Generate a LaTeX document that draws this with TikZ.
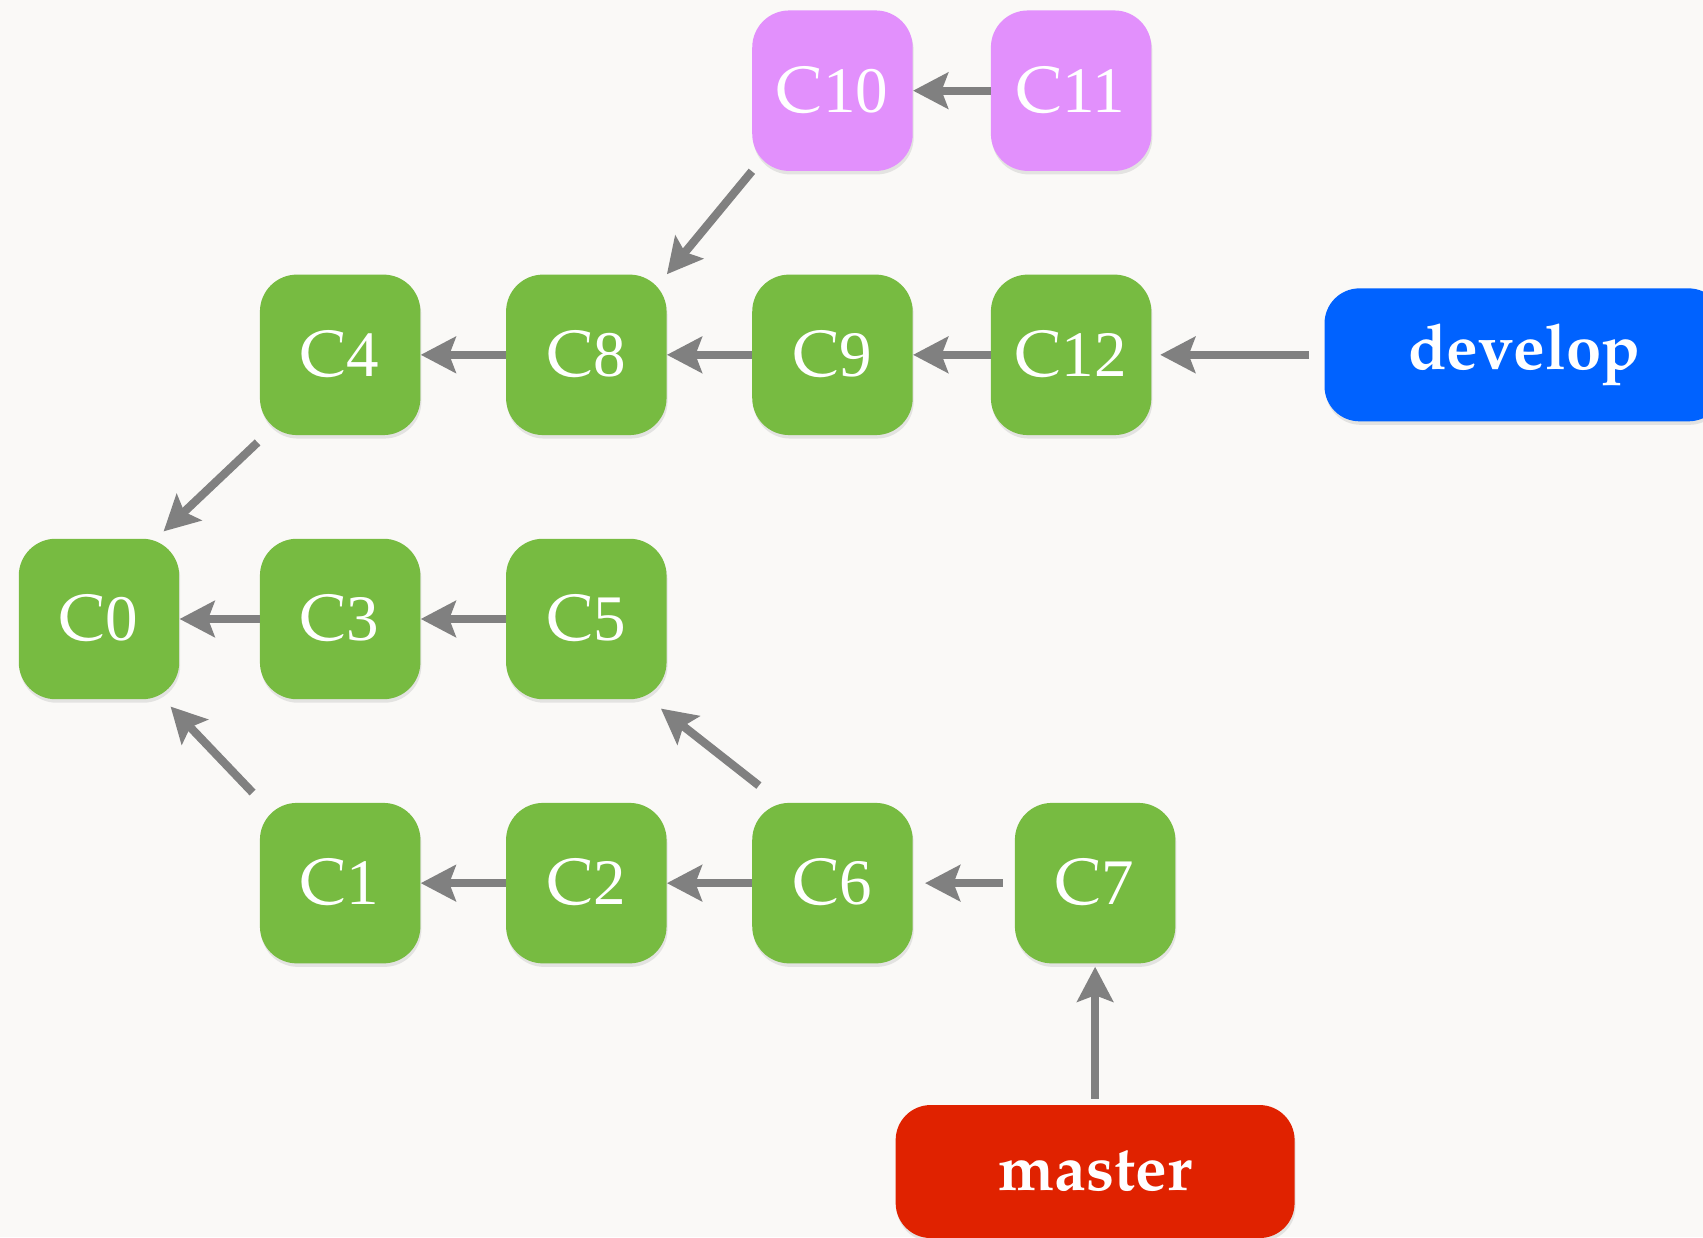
\documentclass[tikz,border=0pt]{standalone}
\usepackage{fontspec}
\newfontfamily\digitfont{Liberation Serif}
\usepackage[T1]{fontenc}
\usepackage{palatino}
\usetikzlibrary{positioning,shadows,arrows.meta}

\definecolor{commitgreen}{HTML}{77BB41}
\definecolor{commitpink}{HTML}{E290FC}
\definecolor{devblue}{HTML}{0062FF}
\definecolor{masterred}{HTML}{E02200}
\definecolor{linkgray}{HTML}{808080}
\definecolor{paper}{HTML}{FAF9F7}

% commit label: C plus lining digits
\newcommand\cid[1]{C{\digitfont #1}}

\tikzset{
  commit/.style={fill=commitgreen, text=white, rounded corners=0.74cm,
    minimum width=3.21cm, minimum height=3.21cm, inner sep=0pt,
    font=\fontsize{37}{40}\selectfont,
    drop shadow={opacity=0.18, shadow xshift=0.02cm, shadow yshift=-0.07cm}},
  topic/.style={commit, fill=commitpink},
  branch/.style={commit, minimum width=7.98cm, minimum height=2.66cm,
    rounded corners=0.7cm, font=\fontsize{36}{38}\selectfont\bfseries},
  parent/.style={draw=linkgray, line width=0.165cm,
    -{Stealth[length=0.7cm,width=0.72cm,inset=0.13cm]}},
}

\begin{document}
\begin{tikzpicture}[x=0.02cm, y=0.02cm]
\fill[paper] (0,0) rectangle (1703,1237);
\useasboundingbox (0,0) rectangle (1703,1237);
\clip (0,0) rectangle (1703,1237);
% middle row
\node[commit] (C0) at (99,618) {\cid{0}};
\node[commit, right=1.6cm of C0] (C3) {\cid{3}};
\node[commit, right=1.7cm of C3] (C5) {\cid{5}};
% develop row
\node[commit, above=2.06cm of C3] (C4) {\cid{4}};
\node[commit, right=1.7cm of C4] (C8) {\cid{8}};
\node[commit, right=1.7cm of C8] (C9) {\cid{9}};
\node[commit, right=1.55cm of C9] (C12) {\cid{12}};
\node[branch, fill=devblue, right=3.45cm of C12] (develop) {develop};
% topic row
\node[topic, above=2.06cm of C9] (C10) {\cid{10}};
\node[topic, right=1.55cm of C10] (C11) {\cid{11}};
% master row
\node[commit, below=2.06cm of C3] (C1) {\cid{1}};
\node[commit, right=1.7cm of C1] (C2) {\cid{2}};
\node[commit, right=1.7cm of C2] (C6) {\cid{6}};
\node[commit, right=2.03cm of C6] (C7) {\cid{7}};
\node[branch, fill=masterred, below=2.82cm of C7] (master) {master};

\draw[parent] (C11) -- (C10);
\draw[parent] (C10.south west) -- (C8.north east);
\draw[parent] (C8) -- (C4);
\draw[parent] (C9) -- (C8);
\draw[parent] (C12) -- (C9);
\draw[parent, shorten <=0.3cm, shorten >=0.17cm] (develop) -- (C12);
\draw[parent] ([shift={(-2,-7)}]C4.south west) -- ([shift={(-16,7)}]C0.north east);
\draw[parent] (C3) -- (C0);
\draw[parent] (C5) -- (C3);
\draw[parent] ([shift={(-7,10)}]C1.north west) -- ([shift={(-9,-7)}]C0.south east);
\draw[parent] (C2) -- (C1);
\draw[parent] (C6) -- (C2);
\draw[parent] ([shift={(7,17)}]C6.north west) -- ([shift={(-6,-9)}]C5.south east);
\draw[parent, shorten <=0.24cm, shorten >=0.24cm] (C7) -- (C6);
\draw[parent, shorten <=0.12cm, shorten >=0.06cm] (master) -- (C7);
\end{tikzpicture}
\end{document}
